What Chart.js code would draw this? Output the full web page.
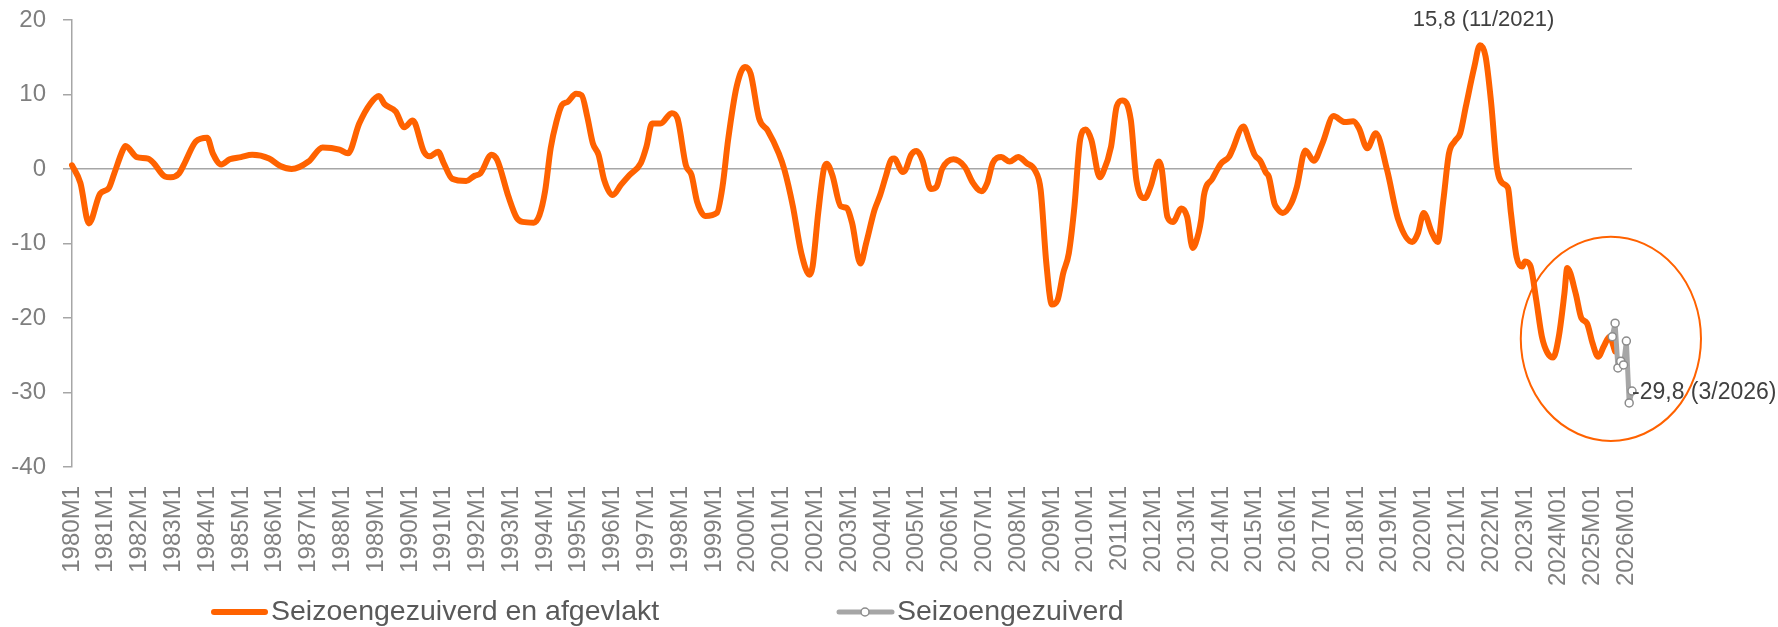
<!DOCTYPE html>
<html>
<head>
<meta charset="utf-8">
<script src="https://cdn.jsdelivr.net/npm/chart.js@4.4.1/dist/chart.umd.min.js"></script>
<style>
  html, body { margin: 0; padding: 0; background: #fff; }
  #wrap { width: 1778px; height: 627px; }
</style>
</head>
<body>
<div id="wrap"><canvas id="chart" width="1778" height="627"></canvas></div>
<script>
// months 1980M1 .. 2026M3 (from 2024 the source switches to the M01 notation)
const firstYear = 1980;
const lastYear = 2026;
const lastMonth = 3;

const months = [];
for (let y = firstYear; y <= lastYear; y++) {
  for (let m = 1; m <= 12; m++) {
    if (y === lastYear && m > lastMonth) break;
    months.push(y < 2024 ? `${y}M${m}` : `${y}M${String(m).padStart(2, '0')}`);
  }
}

// seizoengezuiverd en afgevlakt at the turning points
const smoothed = [
  ['1980M1', 0.5], ['1980M4', -1.9], ['1980M7', -7.3], ['1980M11', -3.3], ['1981M2', -2.6],
  ['1981M4', -0.6], ['1981M7', 2.5], ['1981M8', 3.1], ['1981M12', 1.6], ['1982M4', 1.4],
  ['1982M6', 0.8], ['1982M10', -1.0], ['1982M12', -1.1], ['1983M3', -0.6], ['1983M5', 0.8],
  ['1983M9', 3.7], ['1984M1', 4.2], ['1984M3', 2.1], ['1984M6', 0.6], ['1984M9', 1.3],
  ['1985M1', 1.6], ['1985M5', 1.9], ['1985M11', 1.4], ['1986M3', 0.4], ['1986M7', 0.0],
  ['1987M1', 1.0], ['1987M6', 2.9], ['1987M12', 2.6], ['1988M3', 2.1], ['1988M7', 6.1],
  ['1988M11', 8.8], ['1989M2', 9.8], ['1989M4', 8.7], ['1989M8', 7.7], ['1989M11', 5.6],
  ['1990M2', 6.5], ['1990M6', 2.3], ['1990M8', 1.7], ['1990M11', 2.3], ['1991M1', 0.8],
  ['1991M4', -1.3], ['1991M9', -1.6], ['1991M12', -0.9], ['1992M2', -0.6], ['1992M6', 1.9],
  ['1992M8', 1.2], ['1992M12', -3.7], ['1993M3', -6.6], ['1993M5', -7.1], ['1993M9', -7.2],
  ['1993M11', -6.2], ['1994M1', -3.0], ['1994M3', 2.8], ['1994M5', 6.3], ['1994M7', 8.6],
  ['1994M9', 9.0], ['1994M12', 10.1], ['1995M2', 9.9], ['1995M4', 7.0], ['1995M6', 3.4],
  ['1995M8', 1.9], ['1995M10', -1.5], ['1996M1', -3.5], ['1996M4', -2.1], ['1996M7', -0.8],
  ['1996M11', 0.8], ['1997M1', 3.0], ['1997M3', 6.1], ['1997M6', 6.1], ['1997M10', 7.5],
  ['1997M12', 6.8], ['1998M3', 0.5], ['1998M5', -0.8], ['1998M7', -4.4], ['1998M10', -6.3],
  ['1999M2', -5.9], ['1999M4', -2.4], ['1999M6', 3.9], ['1999M9', 11.0], ['1999M12', 13.7],
  ['2000M2', 12.8], ['2000M5', 6.8], ['2000M8', 5.2], ['2000M12', 2.1], ['2001M2', -0.1],
  ['2001M5', -5.0], ['2001M8', -11.3], ['2001M11', -14.2], ['2001M12', -13.1], ['2002M2', -5.9],
  ['2002M4', 0.0], ['2002M5', 0.7], ['2002M7', -0.8], ['2002M10', -5.0], ['2002M12', -5.2],
  ['2003M2', -7.2], ['2003M5', -12.7], ['2003M7', -10.0], ['2003M10', -5.5], ['2003M12', -3.5],
  ['2004M2', -1.0], ['2004M4', 1.3], ['2004M5', 1.4], ['2004M8', -0.4], ['2004M9', -0.1],
  ['2004M11', 1.9], ['2005M1', 2.4], ['2005M3', 1.2], ['2005M6', -2.7], ['2005M8', -2.4],
  ['2005M10', 0.0], ['2006M2', 1.3], ['2006M6', 0.3], ['2006M9', -1.9], ['2006M12', -3.0],
  ['2007M2', -1.9], ['2007M4', 0.8], ['2007M7', 1.6], ['2007M10', 1.0], ['2008M1', 1.6],
  ['2008M4', 0.8], ['2008M7', -0.2], ['2008M9', -2.8], ['2008M11', -12.6], ['2009M1', -18.2],
  ['2009M3', -17.6], ['2009M5', -14.0], ['2009M7', -11.3], ['2009M9', -5.0], ['2009M11', 3.9],
  ['2010M1', 5.3], ['2010M3', 3.9], ['2010M6', -1.1], ['2010M7', -0.6], ['2010M10', 3.0],
  ['2010M12', 8.4], ['2011M2', 9.2], ['2011M5', 6.6], ['2011M7', -1.5], ['2011M10', -3.9],
  ['2011M12', -2.4], ['2012M3', 1.0], ['2012M4', 0.0], ['2012M6', -6.4], ['2012M8', -7.1],
  ['2012M11', -5.3], ['2013M1', -6.4], ['2013M3', -10.6], ['2013M4', -10.0], ['2013M6', -6.8],
  ['2013M7', -3.5], ['2013M10', -1.3], ['2014M1', 0.7], ['2014M4', 1.7], ['2014M5', 2.5],
  ['2014M9', 5.7], ['2014M11', 3.9], ['2015M1', 1.9], ['2015M3', 1.1], ['2015M5', -0.5],
  ['2015M6', -1.0], ['2015M8', -4.6], ['2015M9', -5.3], ['2015M11', -5.9], ['2016M2', -4.6],
  ['2016M4', -2.4], ['2016M7', 2.5], ['2016M10', 1.1], ['2017M1', 3.4], ['2017M5', 7.1],
  ['2017M9', 6.3], ['2017M12', 6.4], ['2018M2', 5.5], ['2018M5', 2.8], ['2018M8', 4.8],
  ['2018M12', -0.1], ['2019M4', -6.8], ['2019M9', -9.8], ['2019M11', -8.6], ['2020M1', -5.9],
  ['2020M4', -8.6], ['2020M6', -9.8], ['2020M8', -4.2], ['2020M10', 2.1], ['2020M12', 3.7],
  ['2021M2', 4.8], ['2021M4', 8.4], ['2021M7', 13.7], ['2021M9', 16.6], ['2021M11', 15.1],
  ['2022M1', 8.8], ['2022M3', 0.3], ['2022M5', -1.9], ['2022M7', -2.6], ['2022M8', -5.9],
  ['2022M10', -11.8], ['2022M12', -13.1], ['2023M1', -12.4], ['2023M3', -13.1], ['2023M5', -17.6],
  ['2023M7', -22.5], ['2023M9', -24.7], ['2023M11', -25.3], ['2024M01', -22.5], ['2024M03', -16.7],
  ['2024M04', -13.3], ['2024M07', -16.7], ['2024M09', -20.0], ['2024M11', -20.7], ['2025M01', -23.4],
  ['2025M03', -25.2], ['2025M05', -23.8], ['2025M07', -22.5], ['2025M09', -24.5]
];

// seizoengezuiverd, last months only
const adjusted = [
  ['2025M08', -22.5], ['2025M09', -20.7], ['2025M10', -26.7], ['2025M11', -25.8],
  ['2025M12', -26.3], ['2026M01', -23.1], ['2026M02', -31.4], ['2026M03', -29.8]
];

const yMin = -40;
const yMax = 20;
const yStep = 10;

const orange = '#ff6200';
const grey = '#a6a6a6';
const tickGrey = '#7f7f7f';

const peakNote = { at: '2021M11', text: '15,8 (11/2021)' };
const lastNote = { at: '2026M03', value: -29.8, text: '-29,8 (3/2026)' };
// ellipse round the last two years: centre (month index, value), radii in months / units
const circle = { at: 546.5, value: -22.8, months: 32, units: 13.7 };

Chart.defaults.font.family = "'Liberation Sans', Arial, sans-serif";
Chart.defaults.color = tickGrey;

const notes = {
  id: 'notes',
  beforeDatasetsDraw(chart) {
    const { ctx, scales: { x, y } } = chart;
    const cx = x.getPixelForValue(circle.at);
    const cy = y.getPixelForValue(circle.value);
    const rx = x.getPixelForValue(circle.at + circle.months) - cx;
    const ry = y.getPixelForValue(circle.value - circle.units) - cy;
    ctx.save();
    ctx.strokeStyle = orange;
    ctx.lineWidth = 2;
    ctx.beginPath();
    ctx.ellipse(cx, cy, rx, ry, 0, 0, Math.PI * 2);
    ctx.stroke();
    ctx.restore();
  },
  afterDatasetsDraw(chart) {
    const { ctx, scales: { x, y } } = chart;
    ctx.save();
    ctx.fillStyle = '#404040';
    ctx.textBaseline = 'middle';

    ctx.font = "22px 'Liberation Sans', Arial, sans-serif";
    ctx.textAlign = 'center';
    ctx.fillText(peakNote.text, x.getPixelForValue(months.indexOf(peakNote.at)) - 2, y.getPixelForValue(yMax));

    ctx.font = "23px 'Liberation Sans', Arial, sans-serif";
    ctx.textAlign = 'left';
    ctx.fillText(lastNote.text, x.getPixelForValue(months.indexOf(lastNote.at)), y.getPixelForValue(lastNote.value) + 2);
    ctx.restore();
  },
  afterDraw(chart) {
    // legend below the axis labels
    const { ctx } = chart;
    const [sm, adj] = chart.data.datasets;
    const ly = 612;
    ctx.save();
    ctx.lineCap = 'round';

    ctx.strokeStyle = sm.borderColor;
    ctx.lineWidth = 6;
    ctx.beginPath();
    ctx.moveTo(214, ly);
    ctx.lineTo(265, ly);
    ctx.stroke();

    ctx.strokeStyle = adj.borderColor;
    ctx.lineWidth = 5;
    ctx.beginPath();
    ctx.moveTo(839, ly);
    ctx.lineTo(892, ly);
    ctx.stroke();
    ctx.fillStyle = '#fff';
    ctx.strokeStyle = adj.pointBorderColor;
    ctx.lineWidth = 1.5;
    ctx.beginPath();
    ctx.arc(865, ly, 4, 0, Math.PI * 2);
    ctx.fill();
    ctx.stroke();

    ctx.fillStyle = '#595959';
    ctx.font = "28.5px 'Liberation Sans', Arial, sans-serif";
    ctx.textBaseline = 'middle';
    ctx.fillText(sm.label, 271, ly);
    ctx.fillText(adj.label, 897, ly);
    ctx.restore();
  }
};

new Chart(document.getElementById('chart'), {
  type: 'line',
  data: {
    labels: months,
    datasets: [
      {
        label: 'Seizoengezuiverd en afgevlakt',
        data: smoothed.map(([m, v]) => ({ x: m, y: v })),
        borderColor: orange,
        borderWidth: 6,
        pointRadius: 0,
        cubicInterpolationMode: 'monotone',
        borderJoinStyle: 'round',
        borderCapStyle: 'round',
        order: 1
      },
      {
        label: 'Seizoengezuiverd',
        data: adjusted.map(([m, v]) => ({ x: m, y: v })),
        borderColor: grey,
        borderWidth: 5,
        borderJoinStyle: 'round',
        borderCapStyle: 'round',
        pointRadius: 4,
        pointBackgroundColor: '#fff',
        pointBorderColor: '#8c8c8c',
        pointBorderWidth: 1.5,
        tension: 0,
        order: 0
      }
    ]
  },
  options: {
    responsive: false,
    animation: false,
    events: [],
    layout: { padding: { top: 20, right: 146, bottom: 0, left: 0 } },
    plugins: {
      legend: { display: false },
      tooltip: { enabled: false }
    },
    scales: {
      x: {
        type: 'category',
        offset: false,
        grid: { display: false, drawTicks: false, tickLength: 0 },
        border: { display: false },
        ticks: {
          autoSkip: false,
          minRotation: 90,
          maxRotation: 90,
          padding: 19,
          color: tickGrey,
          font: { size: 24 },
          callback: (value, index) => (index % 12 === 0 ? months[index] : null)
        },
        afterFit: (scale) => { scale.height = 160; }
      },
      y: {
        min: yMin,
        max: yMax,
        ticks: {
          stepSize: yStep,
          padding: 17,
          color: tickGrey,
          font: { size: 24 }
        },
        grid: {
          color: (c) => (c.tick && c.tick.value === 0 ? grey : 'transparent'),
          lineWidth: 1.5,
          tickColor: grey,
          tickLength: 9
        },
        border: { display: true, color: grey, width: 1.5 },
        afterFit: (scale) => {
          // keep the label overhang from pushing the plot down
          scale.width = 72;
          scale.paddingTop = 0;
          scale.paddingBottom = 0;
        }
      }
    }
  },
  plugins: [notes]
});
</script>
</body>
</html>
